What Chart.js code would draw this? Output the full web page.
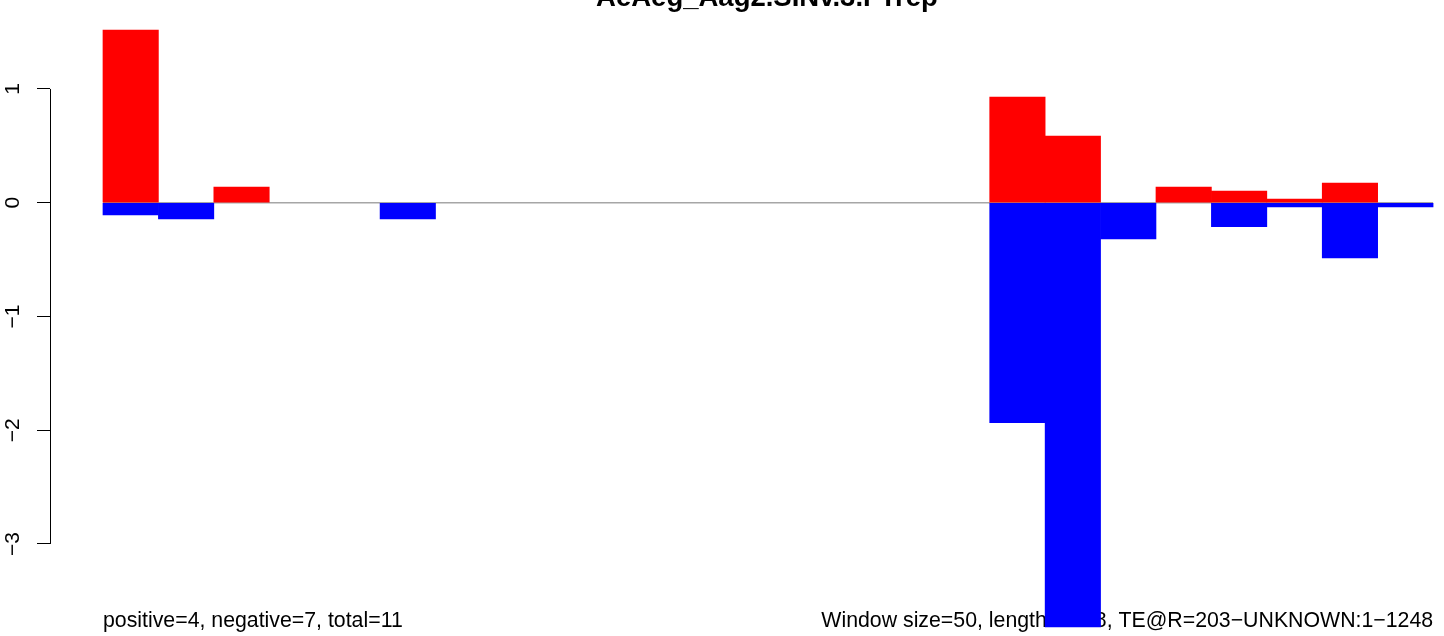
<!DOCTYPE html>
<html>
<head>
<meta charset="utf-8">
<script src="https://cdn.jsdelivr.net/npm/chart.js@4/dist/chart.umd.min.js"></script>
<style>
  html, body { margin: 0; padding: 0; background: #fff; }
  canvas { display: block; }
</style>
</head>
<body>
<canvas id="teChart" width="1444" height="636"></canvas>
<script>
// windows of 50 bp along the element (1..24)
const windows = [1, 2, 3, 4, 5, 6, 7, 8, 9, 10, 11, 12, 13, 14, 15, 16, 17, 18, 19, 20, 21, 22, 23, 24];
const positiveVals = [1.518, 0, 0.138, 0, 0, 0, 0, 0, 0, 0, 0, 0, 0, 0, 0, 0, 0.929, 0.586, 0, 0.138, 0.103, 0.032, 0.173, 0];
const negativeVals = [-0.108, -0.143, 0, 0, 0, -0.143, 0, 0, 0, 0, 0, 0, 0, 0, 0, 0, -1.934, -3.73, -0.319, 0, -0.211, -0.038, -0.486, -0.038];
const yTicks = [-3, -2, -1, 0, 1];

const titleText = "AeAeg_Aag2.SINv.3.FTrep";
const leftNote = "positive=4, negative=7, total=11";
const rightNote = "Window size=50, length=1248, TE@R=203\u2212UNKNOWN:1\u22121248";

const FONT = "'Liberation Sans', Arial, Helvetica, sans-serif";

// empty windows get no bar at all
function toPoints(vals) {
  return vals.map((v, i) => ({ x: windows[i] - 0.5, y: v === 0 ? null : v }));
}

// zero line, notes and title (drawn under the bars like the original)
const rDecor = {
  id: "rDecor",
  beforeDatasetsDraw(chart) {
    const ctx = chart.ctx;
    const xs = chart.scales.x;
    const ys = chart.scales.y;
    ctx.save();
    ctx.strokeStyle = "#a6a6a6";
    ctx.lineWidth = 1.5;
    ctx.beginPath();
    const y0 = ys.getPixelForValue(0);
    ctx.moveTo(xs.getPixelForValue(0), y0);
    ctx.lineTo(xs.getPixelForValue(windows.length), y0);
    ctx.stroke();

    ctx.fillStyle = "#000";
    ctx.font = "21.3px " + FONT;
    ctx.textBaseline = "alphabetic";
    ctx.textAlign = "left";
    ctx.fillText(leftNote, xs.getPixelForValue(0), 627);
    ctx.textAlign = "right";
    ctx.fillText(rightNote, xs.getPixelForValue(windows.length), 627);

    ctx.font = "bold 27.5px " + FONT;
    ctx.textAlign = "center";
    ctx.fillText(titleText, 767, 6);
    ctx.restore();
  },
  afterDraw(chart) {
    const ctx = chart.ctx;
    const ys = chart.scales.y;
    ctx.save();
    ctx.strokeStyle = "#000";
    ctx.lineWidth = 1;
    ctx.beginPath();
    ctx.moveTo(50.5, ys.getPixelForValue(yTicks[yTicks.length - 1]));
    ctx.lineTo(50.5, ys.getPixelForValue(yTicks[0]));
    ctx.stroke();
    ctx.restore();
  }
};

const ctx = document.getElementById("teChart").getContext("2d");

new Chart(ctx, {
  type: "bar",
  data: {
    datasets: [
      {
        label: "positive",
        data: toPoints(positiveVals),
        backgroundColor: "#ff0000",
        borderWidth: 0,
        grouped: false,
        categoryPercentage: 1,
        barPercentage: 1,
      },
      {
        label: "negative",
        data: toPoints(negativeVals),
        backgroundColor: "#0000ff",
        borderWidth: 0,
        grouped: false,
        categoryPercentage: 1,
        barPercentage: 1,
      },
    ],
  },
  options: {
    responsive: false,
    animation: false,
    devicePixelRatio: 1,
    layout: { padding: 0 },
    plugins: {
      legend: { display: false },
      tooltip: { enabled: false },
      title: { display: false },
    },
    scales: {
      x: {
        type: "linear",
        display: false,
        offset: false,
        min: -0.956,
        max: 24.197,
      },
      y: {
        min: -3.809,
        max: 1.782,
        afterFit(scale) {
          scale.width = 50;
          scale.paddingTop = 0;
          scale.paddingBottom = 0;
          scale.paddingLeft = 0;
          scale.paddingRight = 0;
        },
        afterBuildTicks(scale) {
          scale.ticks = yTicks.map((v) => ({ value: v }));
        },
        border: { display: false },
        grid: {
          drawOnChartArea: false,
          drawTicks: true,
          tickLength: 13,
          color: "#000",
          lineWidth: 1,
        },
        ticks: {
          includeBounds: false,
          minRotation: 90,
          maxRotation: 90,
          crossAlign: "center",
          padding: 12,
          color: "#000",
          font: { family: FONT, size: 21 },
          callback: (v) => (v < 0 ? "\u2212" + Math.abs(v) : String(v)),
        },
      },
    },
  },
  plugins: [rDecor],
});
</script>
</body>
</html>
